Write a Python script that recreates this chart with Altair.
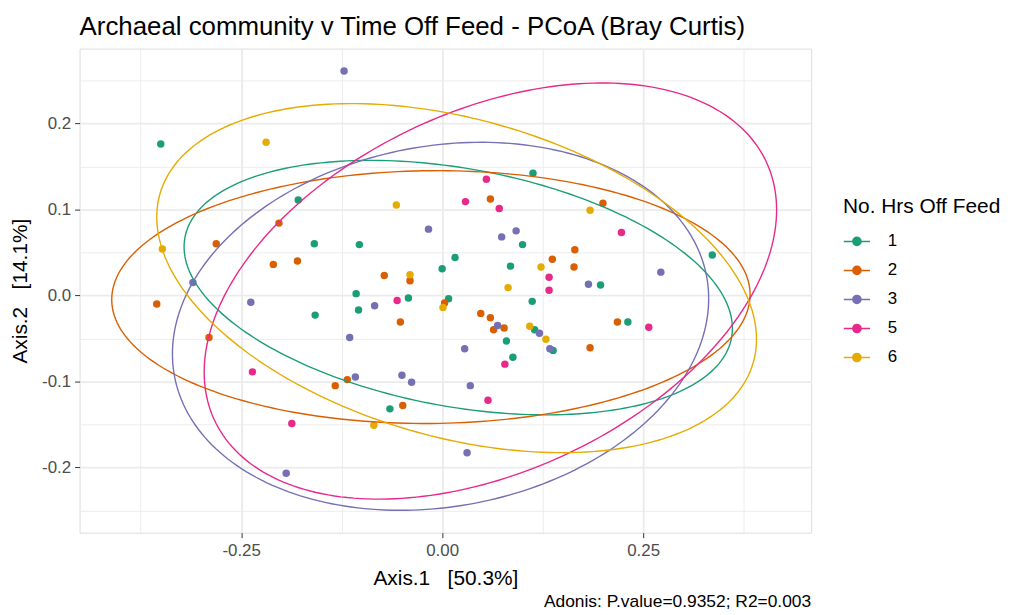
import altair as alt
import pandas as pd
import numpy as np

FONT = "Liberation Sans"

groups = ["1", "2", "3", "5", "6"]
colors = ["#1B9E77", "#D95F02", "#7570B3", "#E7298A", "#E6AB02"]

# PCoA coordinates per group (Axis.1, Axis.2)
g1_x = [-0.350, -0.179, 0.113, -0.159, -0.103, 0.100, 0.016, 0.000, 0.085, -0.107, -0.042, 0.008,
        0.112, -0.104, -0.158, 0.115, 0.138, 0.080, 0.088, -0.065, 0.336, 0.197, 0.231]
g1_y = [0.176, 0.111, 0.142, 0.060, 0.059, 0.059, 0.044, 0.031, 0.034, 0.002, -0.003, -0.004,
        -0.007, -0.017, -0.023, -0.040, -0.064, -0.053, -0.072, -0.132, 0.047, 0.012, -0.031]
g2_x = [0.060, 0.200, -0.203, -0.281, -0.210, -0.180, -0.355, -0.290, 0.137, 0.165, 0.164, -0.072,
        -0.040, 0.003, -0.052, 0.048, 0.060, 0.064, 0.077, 0.218, 0.184, -0.133, -0.118, -0.049]
g2_y = [0.112, 0.107, 0.084, 0.060, 0.036, 0.040, -0.010, -0.049, 0.042, 0.053, 0.033, 0.023,
        0.017, -0.009, -0.031, -0.021, -0.026, -0.040, -0.038, -0.031, -0.061, -0.105, -0.098, -0.128]
g3_x = [-0.122, -0.310, -0.238, -0.017, 0.074, 0.092, 0.272, 0.182, -0.084, 0.069, 0.121, 0.134,
        -0.115, 0.028, -0.108, -0.050, -0.038, 0.035, 0.031, -0.194]
g3_y = [0.261, 0.015, -0.008, 0.077, 0.068, 0.075, 0.027, 0.013, -0.012, -0.035, -0.044, -0.062,
        -0.049, -0.062, -0.095, -0.093, -0.101, -0.105, -0.183, -0.207]
g5_x = [0.055, 0.029, 0.071, 0.223, 0.133, 0.133, -0.056, 0.257, 0.078, 0.057, -0.236, -0.187]
g5_y = [0.135, 0.109, 0.101, 0.073, 0.021, 0.006, -0.006, -0.037, -0.080, -0.122, -0.089, -0.149]
g6_x = [-0.219, -0.348, -0.057, 0.123, -0.040, 0.082, 0.001, 0.109, 0.129, 0.184, -0.085]
g6_y = [0.178, 0.054, 0.105, 0.033, 0.024, 0.009, -0.014, -0.036, -0.051, 0.099, -0.151]

# 95% ellipse parameters per group:
# centre, half-extent along each axis and correlation
ell_cx = [0.020, -0.014, -0.002, 0.060, 0.018]
ell_cy = [0.009, -0.002, -0.036, 0.005, 0.020]
ell_wx = [0.341, 0.397, 0.3335, 0.356, 0.373]
ell_hy = [0.148, 0.147, 0.214, 0.242, 0.203]
ell_r = [-0.32, 0.02, 0.15, 0.39, -0.35]

x_ticks = [-0.375, -0.25, -0.125, 0.0, 0.125, 0.25, 0.375]
y_ticks = [-0.25, -0.2, -0.15, -0.1, -0.05, 0.0, 0.05, 0.1, 0.15, 0.2, 0.25]

title_text = "Archaeal community v Time Off Feed - PCoA (Bray Curtis)"
x_title = "Axis.1\u00a0\u00a0\u00a0[50.3%]"
y_title = "Axis.2\u00a0\u00a0\u00a0[14.1%]"
legend_title = "No. Hrs Off Feed"
caption = "Adonis: P.value=0.9352; R2=0.003"

xs = [g1_x, g2_x, g3_x, g5_x, g6_x]
ys = [g1_y, g2_y, g3_y, g5_y, g6_y]
pts = pd.concat([pd.DataFrame({"x": a, "y": b, "group": g}) for a, b, g in zip(xs, ys, groups)],
                ignore_index=True)

rows = []
t = np.linspace(0, 2 * np.pi, 241)
for g, cx, cy, wx, hy, r in zip(groups, ell_cx, ell_cy, ell_wx, ell_hy, ell_r):
    ex = cx + wx * np.cos(t)
    ey = cy + hy * (r * np.cos(t) + np.sqrt(1 - r * r) * np.sin(t))
    rows.append(pd.DataFrame({"x": ex, "y": ey, "group": g, "idx": np.arange(len(t))}))
ell = pd.concat(rows, ignore_index=True)

xscale = alt.Scale(domain=[-0.451, 0.459], nice=False, zero=False)
yscale = alt.Scale(domain=[-0.276, 0.287], nice=False, zero=False)

x_major = "abs(datum.value*4 - round(datum.value*4)) < 0.001"
y_major = "abs(datum.value*10 - round(datum.value*10)) < 0.001"

xaxis = alt.Axis(
    values=x_ticks,
    labelExpr=f"{x_major} ? (datum.value < -0.0001 ? '-' + format(-datum.value, '.2f') : format(abs(datum.value), '.2f')) : ''",
    tickOpacity={"condition": {"test": x_major, "value": 1}, "value": 0},
    gridWidth={"condition": {"test": x_major, "value": 1.8}, "value": 0.9},
    gridColor="#EBEBEB", domain=False,
    tickColor="#333333", tickSize=5, tickWidth=1,
    labelFont=FONT, labelFontSize=17, labelColor="#4D4D4D", labelPadding=5,
    title=x_title, titleFont=FONT, titleFontSize=21, titleFontWeight="normal", titleColor="black",
    titleBaseline="alphabetic", titleY=52,
)
yaxis = alt.Axis(
    values=y_ticks,
    labelExpr=f"{y_major} ? (datum.value < -0.0001 ? '-' + format(-datum.value, '.1f') : format(abs(datum.value), '.1f')) : ''",
    tickOpacity={"condition": {"test": y_major, "value": 1}, "value": 0},
    gridWidth={"condition": {"test": y_major, "value": 1.8}, "value": 0.9},
    gridColor="#EBEBEB", domain=False,
    tickColor="#333333", tickSize=5, tickWidth=1,
    labelFont=FONT, labelFontSize=17, labelColor="#4D4D4D", labelPadding=4,
    title=y_title, titleFont=FONT, titleFontSize=21, titleFontWeight="normal", titleColor="black",
    titleBaseline="middle", titleX=-59,
)

symbol_path = "M-1,0L1,0M0.31,0A0.31,0.31,0,1,1,-0.31,0A0.31,0.31,0,1,1,0.31,0Z"
legend = alt.Legend(
    title=legend_title, orient="none", legendX=768, legendY=148, padding=0,
    titleFont=FONT, titleFontSize=21, titleFontWeight="normal", titleColor="black",
    titleBaseline="top", titlePadding=11,
    labelFont=FONT, labelFontSize=17, labelColor="black", labelOffset=17,
    symbolType=symbol_path, symbolSize=697, symbolStrokeWidth=1.5, rowPadding=7.2,
    symbolOpacity=1,
)

cscale = alt.Scale(domain=groups, range=colors)

points = alt.Chart(pts).mark_circle(size=56, opacity=1).encode(
    x=alt.X("x:Q", scale=xscale, axis=xaxis),
    y=alt.Y("y:Q", scale=yscale, axis=yaxis),
    color=alt.Color("group:N", scale=cscale, legend=legend),
)

ellipses = alt.Chart(ell).mark_line(strokeWidth=1.4).encode(
    x=alt.X("x:Q", scale=xscale, axis=xaxis),
    y=alt.Y("y:Q", scale=yscale, axis=yaxis),
    color=alt.Color("group:N", scale=cscale, legend=legend),
    order="idx:Q",
)

cap = alt.Chart(pd.DataFrame({"caption": [caption]})).mark_text(
    align="right", baseline="alphabetic", font=FONT, fontSize=17.5, color="black"
).encode(x=alt.value(736), y=alt.value(562), text="caption:N")

chart = alt.layer(points, ellipses, cap).properties(
    width=736, height=487,
    autosize=alt.AutoSizeParams(type="none"),
    padding={"left": 72, "top": 39, "right": 197, "bottom": 78},
    title=alt.TitleParams(title_text, anchor="start", frame="group", font=FONT, fontSize=26,
                          fontWeight="normal", color="black", baseline="alphabetic",
                          offset=14, dy=26),
).configure_view(stroke="#7A7A7A", strokeWidth=1).configure(background="white")

chart.save("out.html", embed_options={"renderer": "svg", "actions": False})
